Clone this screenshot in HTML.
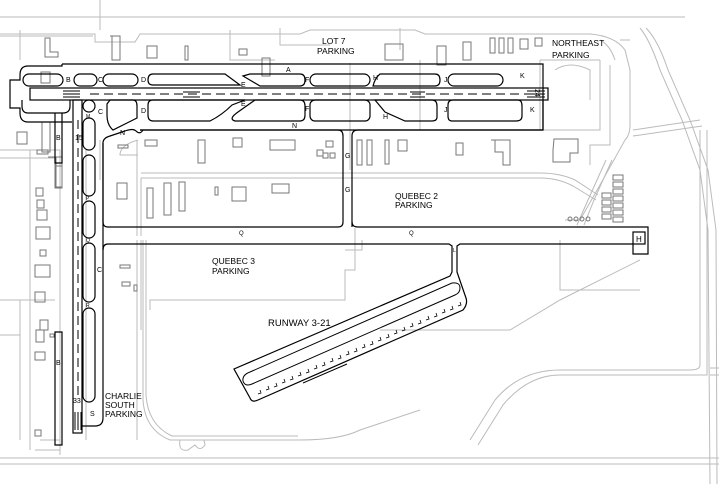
<!DOCTYPE html>
<html><head><meta charset="utf-8"><style>
html,body{margin:0;padding:0;background:#fff}
svg{display:block}
text{font-family:"Liberation Sans",sans-serif;fill:#000}
.t{font-size:7px}
.p{font-size:8.5px}
</style></head><body>
<svg width="719" height="484" viewBox="0 0 719 484" xmlns="http://www.w3.org/2000/svg">
<rect width="719" height="484" fill="#fff"/>
<g fill="none" stroke="#bbb" stroke-width="1">
<line x1="0" y1="17" x2="685" y2="17"/>
<path d="M0 34 H95 V42 H135 L140 34 H300 L310 30 H415 L425 34 H590 Q615 36 625 50 L630 70 V125 Q630 135 625 140 L600 185 L580 220 H565"/>
<path d="M0 36 H93"/>
<path d="M640 28 Q650 40 660 70 L682 120 L700 170 L708 230 L710 484"/>
<path d="M646 28 Q658 40 668 70 L690 120 L708 170 L716 230 L717 484"/>
<path d="M633 130 L700 120 M633 136 L702 126"/>
<path d="M606 160 L588 200 L577 225 M612 160 L594 200 L584 225"/>
<path d="M700 130 V365 Q700 370 690 370 H560 Q520 370 495 400 L470 440"/>
<path d="M707 130 V375 H560 Q528 375 503 405 L478 445"/>
<path d="M719 368 H710 M719 375 H710"/>
<line x1="0" y1="458" x2="719" y2="458"/>
<line x1="0" y1="464" x2="719" y2="464"/>
<path d="M137 140 V236 M141 178 V236 M137 240 V440 M141 240 V330"/>
<path d="M141 173 H540 Q560 173 575 180 L598 195 M141 178 H540 Q558 178 573 186 L596 200"/>
<path d="M138 140 Q120 145 120 155 H138"/>
<path d="M143 240 V400 Q145 430 170 440 H300 Q340 440 360 430 L420 410"/>
<path d="M146 240 V395 Q148 425 172 436 H298"/>
<path d="M180 440 Q178 452 188 450 L195 445 Q200 452 205 445 L204 440"/>
<path d="M355 228 V270 H345 V300 H150 V310"/>
<path d="M362 240 V250 H345"/>
<path d="M560 240 V290 H640"/>
<path d="M380 330 L510 330 L560 300 L640 260"/>
<path d="M100 100 H60 M0 150 H60 V440 M0 158 H55 M30 150 V450 M0 300 H55 M20 300 V440 M0 335 H20 M100 0 V30 M20 30 V60"/>
<path d="M40 440 H60 V455 M35 450 H60"/>
<path d="M86 150 V440 M100 140 V180"/>
<path d="M350 63 V170 M420 60 V130 M540 60 V130 M600 60 H540 M600 60 V130 H540"/>
<path d="M555 70 Q570 60 590 70 V100"/>
<path d="M610 65 V145 H590 V165"/>
<path d="M620 40 H630 M600 40 Q610 45 615 60"/>
<path d="M230 30 V60 H275 M280 28 V45 H330 M400 28 V50"/>
</g>
<g fill="none" stroke="#777" stroke-width="1">
<path d="M45 38 V57 H58 V52 H50 V38Z"/>
<path d="M110 36 H120 V60 H112 V36Z"/>
<rect x="147" y="46" width="10" height="12"/><rect x="185" y="46" width="3" height="14"/>
<rect x="239" y="49" width="8" height="6"/><rect x="262" y="58" width="8" height="18"/>
<rect x="385" y="44" width="18" height="16"/><rect x="437" y="46" width="9" height="19"/>
<rect x="463" y="42" width="8" height="18"/>
<rect x="490" y="38" width="5" height="15"/><rect x="499" y="38" width="5" height="15"/><rect x="508" y="38" width="5" height="15"/>
<rect x="520" y="39" width="8" height="10"/><rect x="535" y="38" width="7" height="8"/>
<rect x="41" y="72" width="9" height="11"/>
<rect x="42" y="122" width="8" height="30"/><rect x="17" y="132" width="10" height="12"/>
<rect x="37" y="150" width="11" height="4"/>
<path d="M48 157 H55 V188 H62 V166 H56 V157"/>
<rect x="56" y="157" width="6" height="30"/>
<rect x="36" y="188" width="7" height="8"/><rect x="37" y="200" width="7" height="8"/>
<rect x="37" y="210" width="10" height="10"/><rect x="36" y="227" width="14" height="12"/>
<rect x="40" y="250" width="6" height="6"/><rect x="35" y="265" width="15" height="12"/>
<rect x="35" y="292" width="10" height="10"/><rect x="40" y="320" width="8" height="10"/>
<rect x="36" y="330" width="8" height="12"/><rect x="35" y="352" width="10" height="8"/>
<rect x="35" y="430" width="6" height="6"/><rect x="50" y="334" width="4" height="3"/>
<rect x="118" y="145" width="10" height="3"/><rect x="145" y="140" width="12" height="6"/>
<rect x="117" y="183" width="10" height="16"/>
<rect x="198" y="140" width="7" height="23"/><rect x="233" y="138" width="9" height="9"/>
<rect x="270" y="140" width="25" height="10"/><rect x="317" y="150" width="6" height="6"/>
<rect x="323" y="153" width="5" height="5"/><rect x="330" y="153" width="5" height="5"/>
<rect x="326" y="141" width="7" height="6"/>
<rect x="147" y="188" width="6" height="30"/><rect x="164" y="183" width="7" height="32"/>
<rect x="179" y="182" width="6" height="29"/><rect x="215" y="187" width="3" height="8"/>
<rect x="232" y="187" width="14" height="14"/><rect x="272" y="184" width="17" height="9"/>
<rect x="357" y="140" width="5" height="25"/><rect x="367" y="140" width="5" height="25"/><rect x="385" y="140" width="4" height="24"/>
<rect x="398" y="140" width="9" height="11"/><rect x="456" y="143" width="7" height="12"/>
<path d="M491 140 H510 V165 H503 V152 H495 V140Z"/>
<path d="M554 139 H578 V153 H570 V162 H553 V150Z"/>
<rect x="120" y="265" width="10" height="3"/><rect x="122" y="282" width="8" height="4"/><rect x="134" y="285" width="3" height="6"/>
<rect x="613" y="175" width="10" height="5"/><rect x="613" y="182" width="10" height="5"/><rect x="613" y="189" width="10" height="5"/>
<rect x="613" y="196" width="10" height="5"/><rect x="613" y="203" width="10" height="5"/><rect x="613" y="210" width="10" height="5"/>
<rect x="613" y="217" width="10" height="5"/><rect x="602" y="193" width="9" height="5"/><rect x="602" y="200" width="9" height="5"/>
<rect x="602" y="207" width="9" height="5"/><rect x="602" y="214" width="9" height="5"/>
<circle cx="570" cy="219" r="2"/><circle cx="576" cy="219" r="2"/><circle cx="582" cy="219" r="2"/><circle cx="588" cy="219" r="2"/>
</g>
<g fill="none" stroke="#000" stroke-width="1.2">
<rect x="30" y="88" width="518" height="12"/>
<path d="M62 64 H543 V130"/>
<path d="M62 64 V66 H28 Q20 66 20 75 V80 H10 V108 H20 V113 Q20 122 28 122 H72"/>
<rect x="23" y="74" width="40" height="12" rx="6"/>
<rect x="74" y="74" width="23" height="12" rx="6"/>
<rect x="103" y="74" width="35" height="12" rx="6"/>
<path d="M153 74 H225 L240 85 H153 Q148 85 148 80 Q148 74 153 74Z"/>
<path d="M250 74 H300 Q305 74 305 80 Q305 86 300 86 H260 L243 76 Z"/>
<rect x="310" y="74" width="60" height="12" rx="6"/>
<path d="M380 74 H435 Q440 74 440 80 Q440 86 435 86 H373 Q375 78 380 74Z"/>
<rect x="448" y="74" width="55" height="12" rx="6"/>
<path d="M22 100 V106 Q22 113 28 113 H63 Q70 113 70 106 V100"/>
<circle cx="89" cy="106" r="6"/>
<path d="M110 100 H133 Q137 100 137 106 V118 L113 130 Q107 125 107 115 V104Z"/>
<path d="M153 100 H245 L232 105 Q222 115 210 121 H153 Q148 121 148 115 V105 Q148 100 153 100Z"/>
<path d="M255 100 H300 Q305 100 305 106 V115 Q305 121 300 121 H235 Q228 119 238 112Z"/>
<rect x="310" y="100" width="60" height="21" rx="5"/>
<path d="M375 100 H432 Q437 100 437 106 V117 Q437 121 432 121 H405 L385 112 Z"/>
<path d="M453 100 H518 Q522 100 522 106 V116 Q522 121 516 121 H452 Q448 121 448 116 V105 Q448 100 453 100Z"/>
<path d="M543 100 V130 H140"/>
<path d="M103 175 V143 Q103 138 110 136 L125 131 Q133 128 136 131 Q140 135 143 130"/>
<path d="M55 113 V163 H62 V113"/>
<path d="M62 332 V445 H55 V332Z"/>
<rect x="73" y="100" width="9" height="333"/>
<rect x="83" y="118" width="12" height="32" rx="6"/>
<rect x="83" y="155" width="12" height="41" rx="6"/>
<rect x="83" y="201" width="12" height="37" rx="6"/>
<rect x="83" y="243" width="12" height="59" rx="6"/>
<rect x="83" y="308" width="12" height="94" rx="6"/>
<path d="M103 143 V418 Q103 426 95 426 H82"/>
<path d="M140 130 H338 Q343 130 343 136 V222 Q343 227 338 227 H108 Q103 227 103 222 V175"/>
<path d="M352 227 V136 Q352 130 358 130 H543"/>
<path d="M352 222 Q352 227 358 227 H648 V254 H633 V244 H460 L457 246 V272 L466 298 Q468 304 463 310 L258 400 Q252 403 250 398 L234 369 L450 276 L452 272 V246 L449 244 H108 Q103 244 103 250"/>
<rect x="633" y="232" width="12" height="12"/>
<text x="636" y="242" style="font-size:8px" stroke="none">H</text>
<path d="M250 372 L452 283 Q460 282 460 288 Q460 293 455 295 L252 384 Q245 387 243 381 Q242 375 250 372Z" stroke-width="1"/>
<path d="M303 383 L347 364" stroke-width="1"/>
</g>
<g stroke="#000" stroke-width="1" stroke-dasharray="9,5">
<line x1="90" y1="94" x2="530" y2="94"/>
<line x1="78" y1="120" x2="78" y2="400"/>
</g>
<g stroke="#000" stroke-width="1" fill="none">
<path d="M63 91 H80 M63 94 H80 M63 97 H80"/>
<path d="M527 91 H545 M527 94 H545 M527 97 H545"/>
<path d="M183 92 H200 M183 97 H200 M410 92 H425 M410 97 H425"/>
<path d="M75 412 V430 M78 412 V430 M81 412 V430"/>
</g>
<g fill="none" stroke="#000" stroke-width="0.8">
<path d="M258 394 l3 -1 l-1 -3 M266 390 l3 -1 l-1 -3 M274 387 l3 -1 l-1 -3 M282 383 l3 -1 l-1 -3 M290 380 l3 -1 l-1 -3 M298 376 l3 -1 l-1 -3 M306 373 l3 -1 l-1 -3 M314 369 l3 -1 l-1 -3 M322 366 l3 -1 l-1 -3 M330 362 l3 -1 l-1 -3 M338 359 l3 -1 l-1 -3 M346 355 l3 -1 l-1 -3 M354 352 l3 -1 l-1 -3 M362 348 l3 -1 l-1 -3 M370 345 l3 -1 l-1 -3 M378 341 l3 -1 l-1 -3 M386 338 l3 -1 l-1 -3 M394 334 l3 -1 l-1 -3 M402 331 l3 -1 l-1 -3 M410 327 l3 -1 l-1 -3 M418 324 l3 -1 l-1 -3 M426 320 l3 -1 l-1 -3 M434 317 l3 -1 l-1 -3 M442 313 l3 -1 l-1 -3 M450 310 l3 -1 l-1 -3 M458 306 l3 -1 l-1 -3"/>
</g>
<g class="t">
<text x="286" y="72">A</text>
<text x="66" y="82">B</text><text x="98" y="82">C</text><text x="141" y="82">D</text>
<text x="241" y="87">E</text><text x="305" y="82">F</text><text x="373" y="80">H</text><text x="444" y="82">J</text><text x="520" y="78">K</text>
<text x="98" y="114">C</text><text x="141" y="113">D</text><text x="241" y="106">E</text><text x="305" y="111">F</text>
<text x="383" y="119">H</text><text x="444" y="112">J</text><text x="530" y="112">K</text>
<text x="292" y="128">N</text><text x="120" y="135">N</text><text x="86" y="118" style="font-size:5px">M</text>
<text x="56" y="140">B</text><text x="75" y="140">15</text>
<text x="345" y="158">G</text><text x="345" y="192">G</text>
<text x="86" y="200" style="font-size:5px">P</text><text x="86" y="242" style="font-size:5px">Q</text>
<text x="239" y="235" style="font-size:6px">Q</text><text x="409" y="235" style="font-size:6px">Q</text>
<text x="453" y="252" style="font-size:5px">L</text>
<text x="97" y="272">C</text><text x="86" y="307" style="font-size:5px">R</text>
<text x="56" y="365">B</text><text x="73" y="403">33</text><text x="90" y="416">S</text>
<text x="534" y="96" transform="rotate(90 538 93)">24</text>
</g>
<g class="p">
<text x="322" y="44">LOT 7</text><text x="317" y="54">PARKING</text>
<text x="552" y="46">NORTHEAST</text><text x="552" y="58">PARKING</text>
<text x="395" y="199">QUEBEC 2</text><text x="395" y="208">PARKING</text>
<text x="212" y="264">QUEBEC 3</text><text x="212" y="274">PARKING</text>
<text x="268" y="326" style="font-size:9.5px">RUNWAY 3-21</text>
<text x="105" y="399">CHARLIE</text><text x="105" y="408">SOUTH</text><text x="105" y="417">PARKING</text>
</g>
</svg>
</body></html>
